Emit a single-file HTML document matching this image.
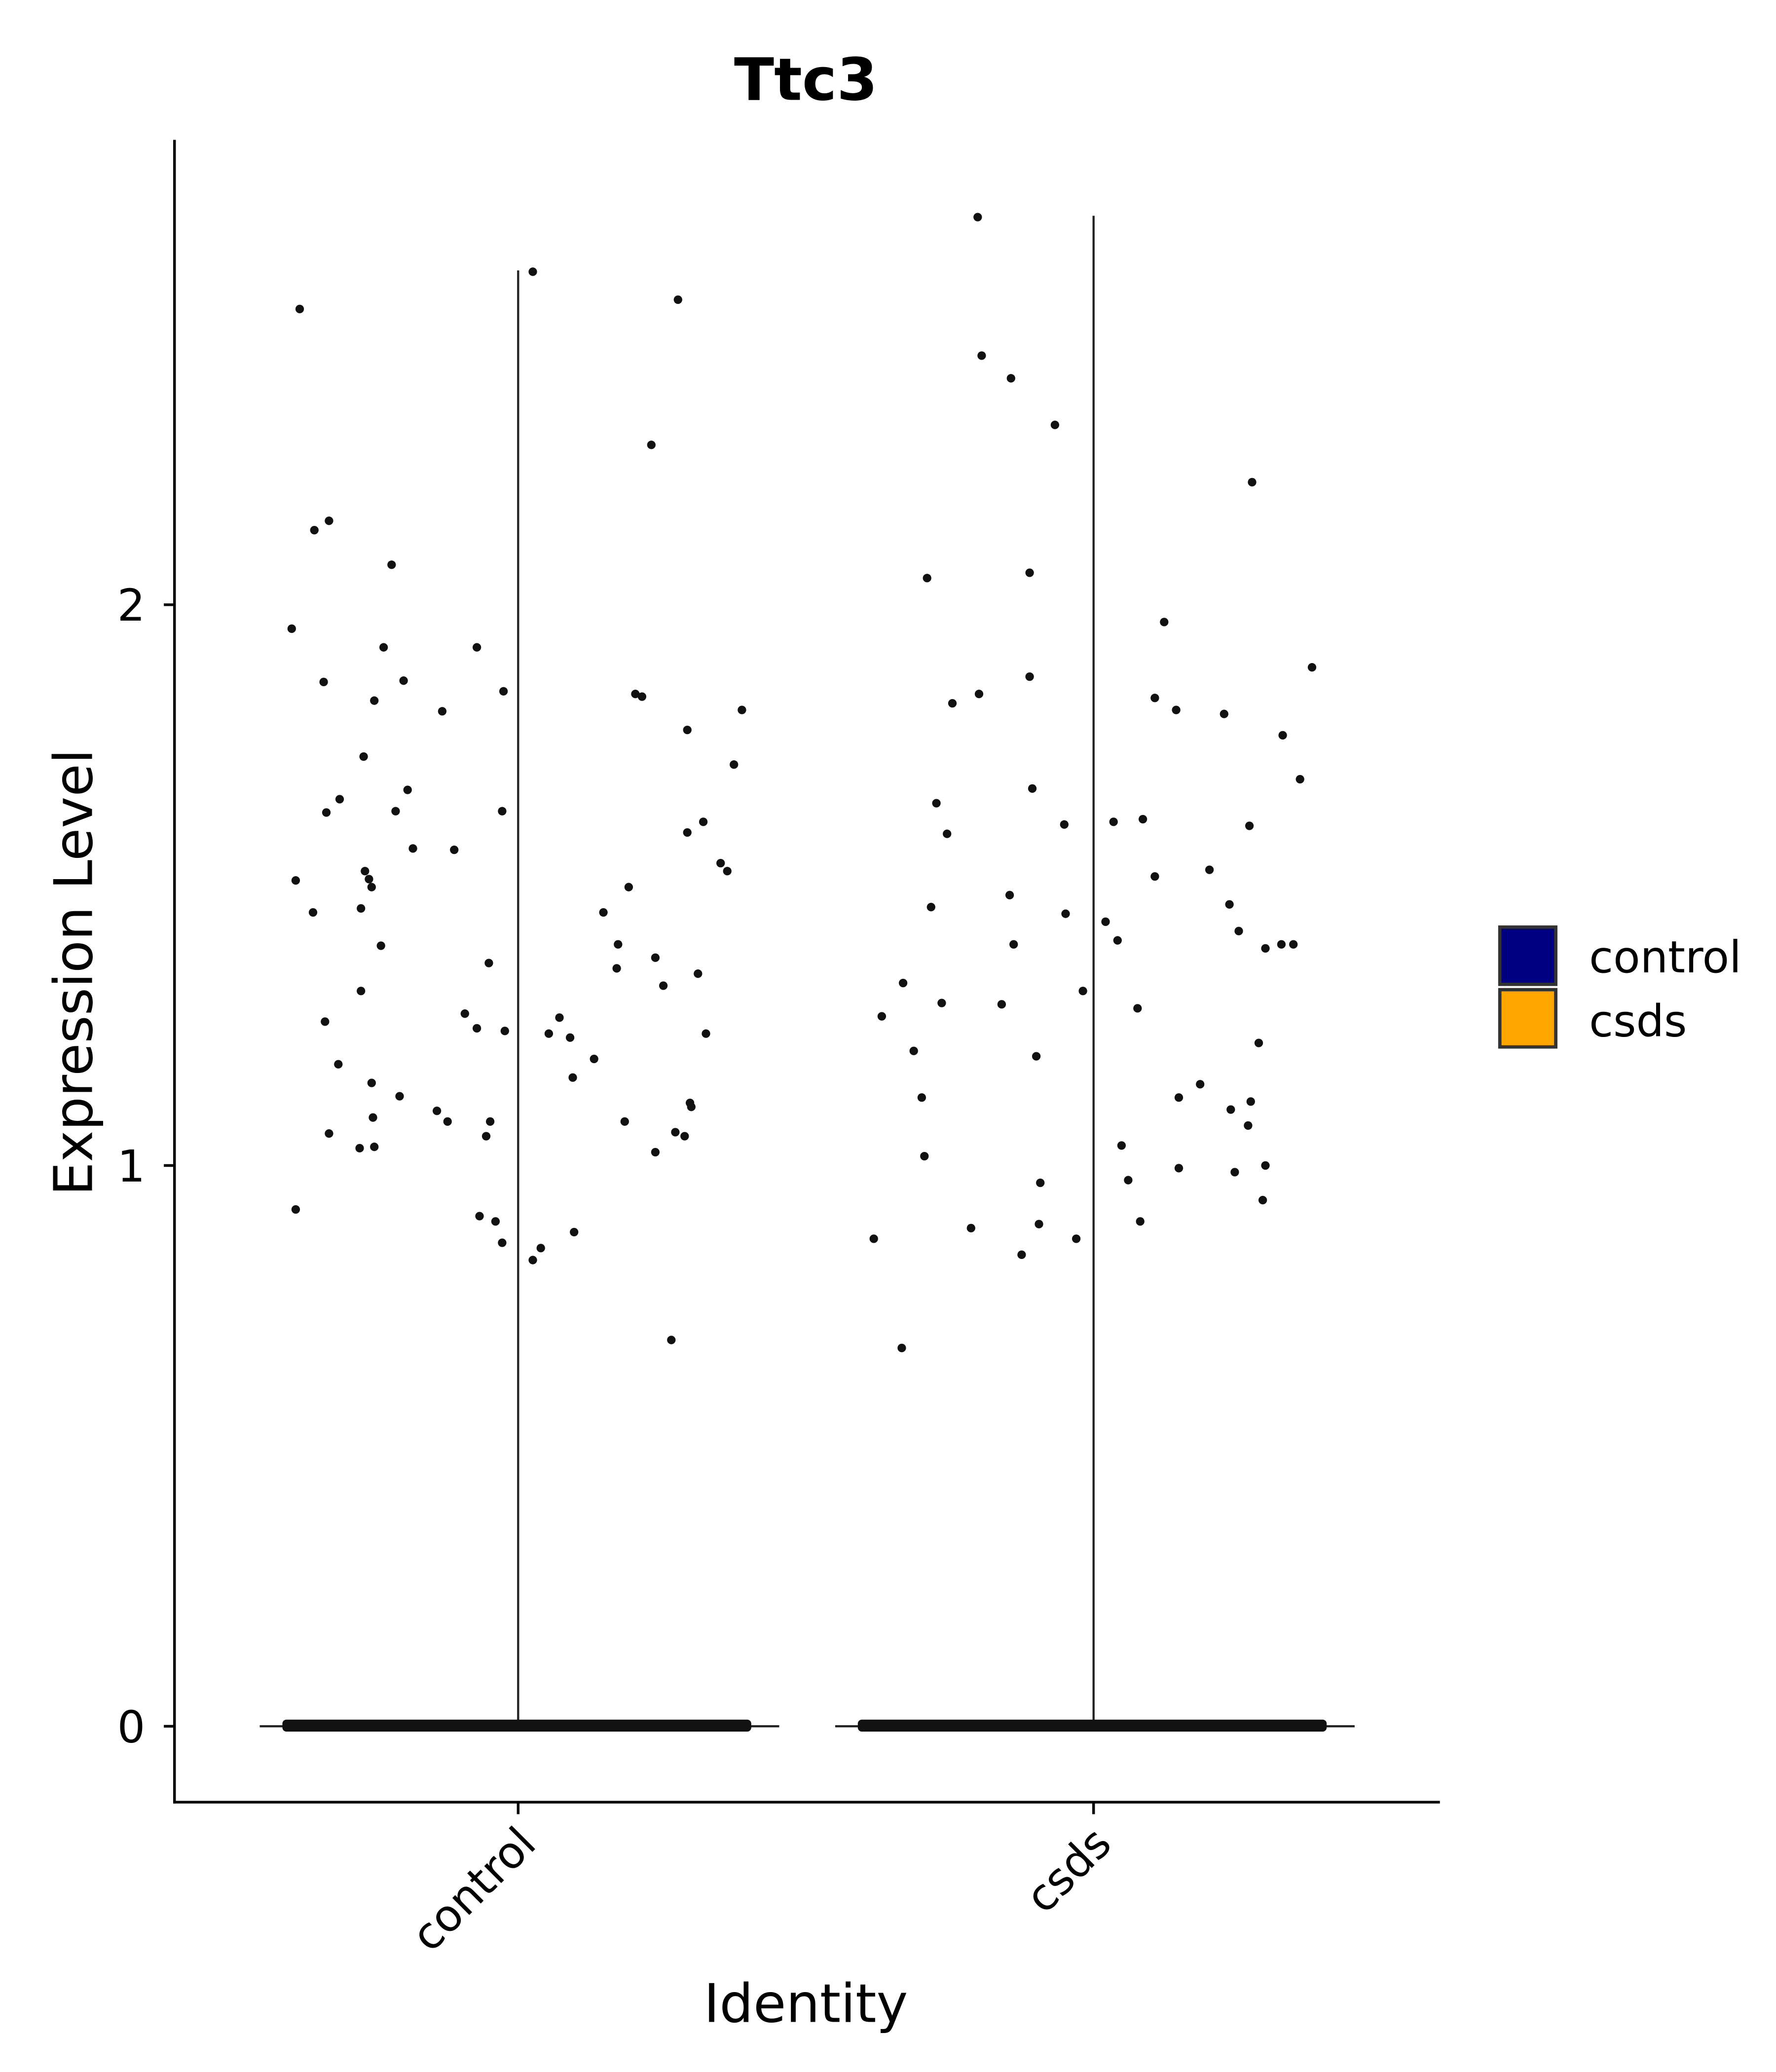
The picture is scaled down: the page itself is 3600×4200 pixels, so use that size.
<!DOCTYPE html>
<html><head><meta charset="utf-8"><style>html,body{margin:0;padding:0;background:#fff}svg{display:block}</style></head>
<body>
<svg width="3600" height="4200" viewBox="0 0 1333.33 1555.56" xmlns="http://www.w3.org/2000/svg" font-family="DejaVu Sans, Liberation Sans, sans-serif">
<rect width="1333.33" height="1555.56" fill="#fff"/>
<text x="605" y="75" font-size="44" font-weight="bold" text-anchor="middle">Ttc3</text>
<g stroke="#000" stroke-width="2" fill="none">
<line x1="131" y1="105" x2="131" y2="1354"/>
<line x1="130" y1="1353" x2="1081" y2="1353"/>
<line x1="123" y1="1296" x2="131" y2="1296"/>
<line x1="123" y1="875" x2="131" y2="875"/>
<line x1="123" y1="454" x2="131" y2="454"/>
<line x1="389" y1="1353" x2="389" y2="1362"/>
<line x1="821" y1="1353" x2="821" y2="1362"/>
</g>
<g font-size="33" text-anchor="end">
<text x="109" y="1308">0</text><text x="109" y="887">1</text><text x="109" y="466">2</text>
</g>
<g font-size="33" text-anchor="end">
<text transform="translate(404,1386) rotate(-45)">control</text>
<text transform="translate(836,1386) rotate(-45)">csds</text>
</g>
<text x="605" y="1518" font-size="40" text-anchor="middle">Identity</text>
<text transform="translate(69,730) rotate(-90)" font-size="40" text-anchor="middle">Expression Level</text>
<g stroke="#222" stroke-width="1.6">
<line x1="389" y1="203" x2="389" y2="1296"/>
<line x1="821" y1="162" x2="821" y2="1296"/>
<line x1="195" y1="1296" x2="585" y2="1296"/>
<line x1="627" y1="1296" x2="1017" y2="1296"/>
</g>
<rect x="212" y="1291" width="352" height="9" rx="3" fill="#111"/>
<rect x="644" y="1291" width="352" height="9" rx="3" fill="#111"/>
<g fill="#111">
<circle cx="225" cy="232" r="3.2"/><circle cx="400" cy="204" r="3.2"/><circle cx="509" cy="225" r="3.2"/><circle cx="236" cy="398" r="3.2"/><circle cx="247" cy="391" r="3.2"/><circle cx="489" cy="334" r="3.2"/><circle cx="294" cy="424" r="3.2"/><circle cx="219" cy="472" r="3.2"/><circle cx="288" cy="486" r="3.2"/><circle cx="358" cy="486" r="3.2"/><circle cx="243" cy="512" r="3.2"/><circle cx="303" cy="511" r="3.2"/><circle cx="281" cy="526" r="3.2"/><circle cx="378" cy="519" r="3.2"/><circle cx="332" cy="534" r="3.2"/><circle cx="477" cy="521" r="3.2"/><circle cx="482" cy="523" r="3.2"/><circle cx="557" cy="533" r="3.2"/><circle cx="516" cy="548" r="3.2"/><circle cx="273" cy="568" r="3.2"/><circle cx="551" cy="574" r="3.2"/><circle cx="255" cy="600" r="3.2"/><circle cx="306" cy="593" r="3.2"/><circle cx="245" cy="610" r="3.2"/><circle cx="297" cy="609" r="3.2"/><circle cx="377" cy="609" r="3.2"/><circle cx="528" cy="617" r="3.2"/><circle cx="516" cy="625" r="3.2"/><circle cx="310" cy="637" r="3.2"/><circle cx="341" cy="638" r="3.2"/><circle cx="541" cy="648" r="3.2"/><circle cx="546" cy="654" r="3.2"/><circle cx="222" cy="661" r="3.2"/><circle cx="274" cy="654" r="3.2"/><circle cx="277" cy="660" r="3.2"/><circle cx="279" cy="666" r="3.2"/><circle cx="472" cy="666" r="3.2"/><circle cx="235" cy="685" r="3.2"/><circle cx="271" cy="682" r="3.2"/><circle cx="453" cy="685" r="3.2"/><circle cx="286" cy="710" r="3.2"/><circle cx="464" cy="709" r="3.2"/><circle cx="367" cy="723" r="3.2"/><circle cx="463" cy="727" r="3.2"/><circle cx="492" cy="719" r="3.2"/><circle cx="524" cy="731" r="3.2"/><circle cx="271" cy="744" r="3.2"/><circle cx="498" cy="740" r="3.2"/><circle cx="349" cy="761" r="3.2"/><circle cx="244" cy="767" r="3.2"/><circle cx="358" cy="772" r="3.2"/><circle cx="379" cy="774" r="3.2"/><circle cx="420" cy="764" r="3.2"/><circle cx="412" cy="776" r="3.2"/><circle cx="428" cy="779" r="3.2"/><circle cx="530" cy="776" r="3.2"/><circle cx="254" cy="799" r="3.2"/><circle cx="446" cy="795" r="3.2"/><circle cx="430" cy="809" r="3.2"/><circle cx="279" cy="813" r="3.2"/><circle cx="300" cy="823" r="3.2"/><circle cx="518" cy="828" r="3.2"/><circle cx="519" cy="831" r="3.2"/><circle cx="328" cy="834" r="3.2"/><circle cx="336" cy="842" r="3.2"/><circle cx="469" cy="842" r="3.2"/><circle cx="280" cy="839" r="3.2"/><circle cx="368" cy="842" r="3.2"/><circle cx="365" cy="853" r="3.2"/><circle cx="507" cy="850" r="3.2"/><circle cx="514" cy="853" r="3.2"/><circle cx="247" cy="851" r="3.2"/><circle cx="270" cy="862" r="3.2"/><circle cx="281" cy="861" r="3.2"/><circle cx="492" cy="865" r="3.2"/><circle cx="222" cy="908" r="3.2"/><circle cx="360" cy="913" r="3.2"/><circle cx="372" cy="917" r="3.2"/><circle cx="377" cy="933" r="3.2"/><circle cx="406" cy="937" r="3.2"/><circle cx="400" cy="946" r="3.2"/><circle cx="431" cy="925" r="3.2"/><circle cx="504" cy="1006" r="3.2"/>
<circle cx="734" cy="163" r="3.2"/><circle cx="737" cy="267" r="3.2"/><circle cx="759" cy="284" r="3.2"/><circle cx="792" cy="319" r="3.2"/><circle cx="940" cy="362" r="3.2"/><circle cx="696" cy="434" r="3.2"/><circle cx="773" cy="430" r="3.2"/><circle cx="874" cy="467" r="3.2"/><circle cx="985" cy="501" r="3.2"/><circle cx="773" cy="508" r="3.2"/><circle cx="735" cy="521" r="3.2"/><circle cx="715" cy="528" r="3.2"/><circle cx="867" cy="524" r="3.2"/><circle cx="883" cy="533" r="3.2"/><circle cx="919" cy="536" r="3.2"/><circle cx="963" cy="552" r="3.2"/><circle cx="976" cy="585" r="3.2"/><circle cx="775" cy="592" r="3.2"/><circle cx="703" cy="603" r="3.2"/><circle cx="711" cy="626" r="3.2"/><circle cx="799" cy="619" r="3.2"/><circle cx="836" cy="617" r="3.2"/><circle cx="858" cy="615" r="3.2"/><circle cx="938" cy="620" r="3.2"/><circle cx="867" cy="658" r="3.2"/><circle cx="908" cy="653" r="3.2"/><circle cx="758" cy="672" r="3.2"/><circle cx="699" cy="681" r="3.2"/><circle cx="761" cy="709" r="3.2"/><circle cx="800" cy="686" r="3.2"/><circle cx="830" cy="692" r="3.2"/><circle cx="839" cy="706" r="3.2"/><circle cx="923" cy="679" r="3.2"/><circle cx="930" cy="699" r="3.2"/><circle cx="950" cy="712" r="3.2"/><circle cx="962" cy="709" r="3.2"/><circle cx="971" cy="709" r="3.2"/><circle cx="678" cy="738" r="3.2"/><circle cx="707" cy="753" r="3.2"/><circle cx="752" cy="754" r="3.2"/><circle cx="813" cy="744" r="3.2"/><circle cx="854" cy="757" r="3.2"/><circle cx="662" cy="763" r="3.2"/><circle cx="686" cy="789" r="3.2"/><circle cx="778" cy="793" r="3.2"/><circle cx="945" cy="783" r="3.2"/><circle cx="692" cy="824" r="3.2"/><circle cx="885" cy="824" r="3.2"/><circle cx="901" cy="814" r="3.2"/><circle cx="924" cy="833" r="3.2"/><circle cx="939" cy="827" r="3.2"/><circle cx="694" cy="868" r="3.2"/><circle cx="842" cy="860" r="3.2"/><circle cx="847" cy="886" r="3.2"/><circle cx="885" cy="877" r="3.2"/><circle cx="927" cy="880" r="3.2"/><circle cx="937" cy="845" r="3.2"/><circle cx="950" cy="875" r="3.2"/><circle cx="948" cy="901" r="3.2"/><circle cx="781" cy="888" r="3.2"/><circle cx="729" cy="922" r="3.2"/><circle cx="780" cy="919" r="3.2"/><circle cx="767" cy="942" r="3.2"/><circle cx="808" cy="930" r="3.2"/><circle cx="856" cy="917" r="3.2"/><circle cx="656" cy="930" r="3.2"/><circle cx="677" cy="1012" r="3.2"/>
</g>
<rect x="1126" y="696" width="42" height="43" fill="#000080" stroke="#333" stroke-width="2.5"/>
<rect x="1126" y="743" width="42" height="43" fill="#FFA500" stroke="#333" stroke-width="2.5"/>
<text x="1193" y="730" font-size="33">control</text>
<text x="1193" y="778" font-size="33">csds</text>
</svg>
</body></html>
